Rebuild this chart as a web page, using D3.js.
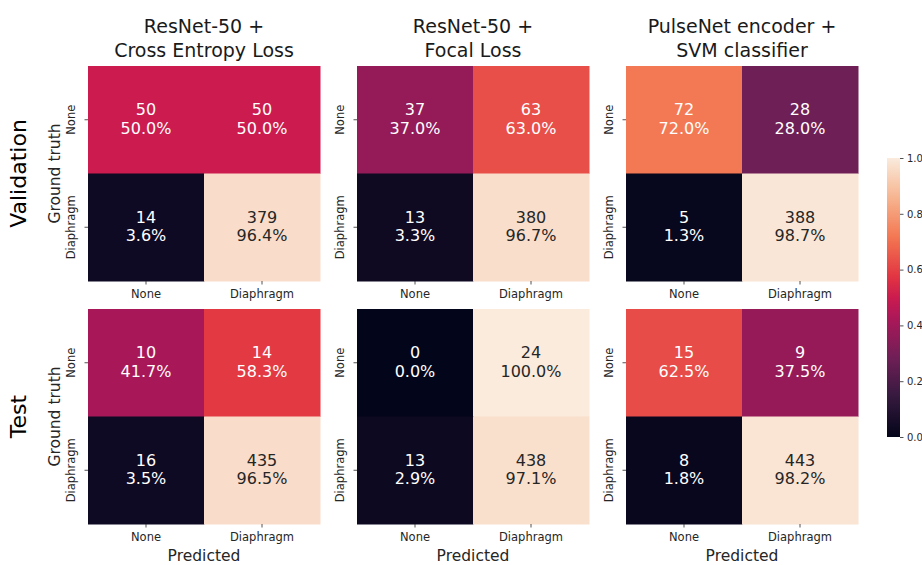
<!DOCTYPE html>
<html>
<head>
<meta charset="utf-8">
<script src="https://cdn.jsdelivr.net/npm/d3@7"></script>
<style>
  html, body { margin: 0; padding: 0; background: #fff; }
  svg { display: block; }
  text { font-family: "DejaVu Sans", sans-serif; }
</style>
</head>
<body>
<svg id="chart" width="922" height="565"></svg>
<script>
// Confusion-matrix counts, rows = ground truth, columns = predicted
const classLabels = ["None", "Diaphragm"];
const splitNames = ["Validation", "Test"];
const modelTitles = [
  ["ResNet-50 +", "Cross Entropy Loss"],
  ["ResNet-50 +", "Focal Loss"],
  ["PulseNet encoder +", "SVM classifier"]
];
const valCrossEntropy = [[50, 50], [14, 379]];
const valFocal        = [[37, 63], [13, 380]];
const valPulseNet     = [[72, 28], [5, 388]];
const testCrossEntropy = [[10, 14], [16, 435]];
const testFocal        = [[0, 24], [13, 438]];
const testPulseNet     = [[15, 9], [8, 443]];
const colorbarTicks = [0.0, 0.2, 0.4, 0.6, 0.8, 1.0];

const matrices = [
  [valCrossEntropy, valFocal, valPulseNet],
  [testCrossEntropy, testFocal, testPulseNet]
];

// "rocket" colormap approximation
const rocketStops = [
  [0.000, "#03051a"], [0.143, "#35193e"], [0.286, "#701f57"],
  [0.429, "#ad1759"], [0.500, "#cb1b4f"], [0.571, "#e13342"],
  [0.714, "#f37651"], [0.857, "#f6b48f"], [1.000, "#faebdd"]
];
const color = d3.scaleLinear()
  .domain(rocketStops.map(d => d[0]))
  .range(rocketStops.map(d => d[1]))
  .interpolate(d3.interpolateRgb)
  .clamp(true);

// text colour chosen by cell luminance
function relLum(c) {
  const rgb = d3.rgb(c);
  const f = v => { v /= 255; return v <= 0.03928 ? v / 12.92 : Math.pow((v + 0.055) / 1.055, 2.4); };
  return 0.2126 * f(rgb.r) + 0.7152 * f(rgb.g) + 0.0722 * f(rgb.b);
}

const svg = d3.select("#chart");
const colLefts = [88, 357, 626];
const rowTops = [66, 309];
const W = 232, H = 215;
const tickColor = "#262626";

matrices.forEach((row, ri) => {
  row.forEach((m, ci) => {
    const x0 = colLefts[ci], y0 = rowTops[ri];
    const x = d3.scaleBand().domain(classLabels).range([x0, x0 + W]);
    const y = d3.scaleBand().domain(classLabels).range([y0, y0 + H]);
    const g = svg.append("g");

    const cells = [];
    m.forEach((r, i) => {
      const total = d3.sum(r);
      r.forEach((v, j) => cells.push({ truth: classLabels[i], pred: classLabels[j], count: v, frac: v / total }));
    });

    g.selectAll("rect").data(cells).join("rect")
      .attr("x", d => x(d.pred))
      .attr("y", d => y(d.truth))
      .attr("width", x.bandwidth() + 0.5)
      .attr("height", y.bandwidth() + 0.5)
      .attr("fill", d => color(d.frac));

    const labels = g.selectAll("g.cell").data(cells).join("g").attr("class", "cell");
    const tc = d => relLum(color(d.frac)) > 0.408 ? "#262626" : "#ffffff";
    labels.append("text")
      .attr("x", d => x(d.pred) + x.bandwidth() / 2)
      .attr("y", d => y(d.truth) + y.bandwidth() / 2 - 4.5)
      .attr("text-anchor", "middle")
      .attr("font-size", 16)
      .attr("fill", tc)
      .text(d => d.count);
    labels.append("text")
      .attr("x", d => x(d.pred) + x.bandwidth() / 2)
      .attr("y", d => y(d.truth) + y.bandwidth() / 2 + 14)
      .attr("text-anchor", "middle")
      .attr("font-size", 16)
      .attr("fill", tc)
      .text(d => (d.frac * 100).toFixed(1) + "%");

    // axes
    const xAxis = d3.axisBottom(x).tickSize(3.5).tickPadding(5.5);
    const gx = svg.append("g").attr("transform", `translate(0,${y0 + H})`).call(xAxis);
    gx.select(".domain").remove();
    gx.selectAll("line").attr("stroke", tickColor).attr("stroke-width", 0.8);
    gx.selectAll("text").attr("font-size", 11.5).attr("fill", tickColor)
      .attr("font-family", "DejaVu Sans, sans-serif");

    const yAxis = d3.axisLeft(y).tickSize(3.5).tickPadding(0);
    const gy = svg.append("g").attr("transform", `translate(${x0},0)`).call(yAxis);
    gy.select(".domain").remove();
    gy.selectAll("line").attr("stroke", tickColor).attr("stroke-width", 0.8);
    gy.selectAll("text")
      .attr("font-size", 11.5).attr("fill", tickColor)
      .attr("font-family", "DejaVu Sans, sans-serif")
      .attr("text-anchor", "middle")
      .attr("dy", 0)
      .attr("x", 0).attr("y", 0)
      .attr("transform", "translate(-13,0) rotate(-90)");

    const cx = x0 + W / 2;
    if (ri === 0) {
      svg.append("text").attr("x", cx).attr("y", 33).attr("text-anchor", "middle")
        .attr("font-size", 19).attr("fill", "#1a1a1a").text(modelTitles[ci][0]);
      svg.append("text").attr("x", cx).attr("y", 57).attr("text-anchor", "middle")
        .attr("font-size", 19).attr("fill", "#1a1a1a").text(modelTitles[ci][1]);
    }
    if (ri === 1) {
      svg.append("text").attr("x", cx).attr("y", 561).attr("text-anchor", "middle")
        .attr("font-size", 15.5).attr("fill", "#262626").text("Predicted");
    }
    if (ci === 0) {
      const cy = y0 + H / 2;
      svg.append("text").attr("transform", `translate(60,${cy}) rotate(-90)`)
        .attr("text-anchor", "middle").attr("font-size", 15.5).attr("fill", "#262626")
        .text("Ground truth");
      svg.append("text").attr("transform", `translate(26,${cy}) rotate(-90)`)
        .attr("text-anchor", "middle").attr("font-size", 22).attr("fill", "#000")
        .text(splitNames[ri]);
    }
  });
});

// colorbar
const cbX = 887, cbW = 13, cbTop = 158, cbBottom = 437;
const cbScale = d3.scaleLinear().domain([0, 1]).range([cbBottom, cbTop]);
const defs = svg.append("defs");
const grad = defs.append("linearGradient").attr("id", "cbgrad")
  .attr("x1", 0).attr("y1", 1).attr("x2", 0).attr("y2", 0);
d3.range(0, 1.0001, 0.02).forEach(t => {
  grad.append("stop").attr("offset", t).attr("stop-color", color(t));
});
svg.append("rect").attr("x", cbX).attr("y", cbTop)
  .attr("width", cbW).attr("height", cbBottom - cbTop).attr("fill", "url(#cbgrad)");
const cbAxis = d3.axisRight(cbScale).tickValues(colorbarTicks).tickFormat(d3.format(".1f"))
  .tickSize(3.5).tickPadding(3.5);
const gcb = svg.append("g").attr("transform", `translate(${cbX + cbW},0)`).call(cbAxis);
gcb.select(".domain").remove();
gcb.selectAll("line").attr("stroke", tickColor).attr("stroke-width", 0.8);
gcb.selectAll("text").attr("font-size", 10).attr("fill", tickColor)
  .attr("font-family", "DejaVu Sans, sans-serif");
</script>
</body>
</html>
